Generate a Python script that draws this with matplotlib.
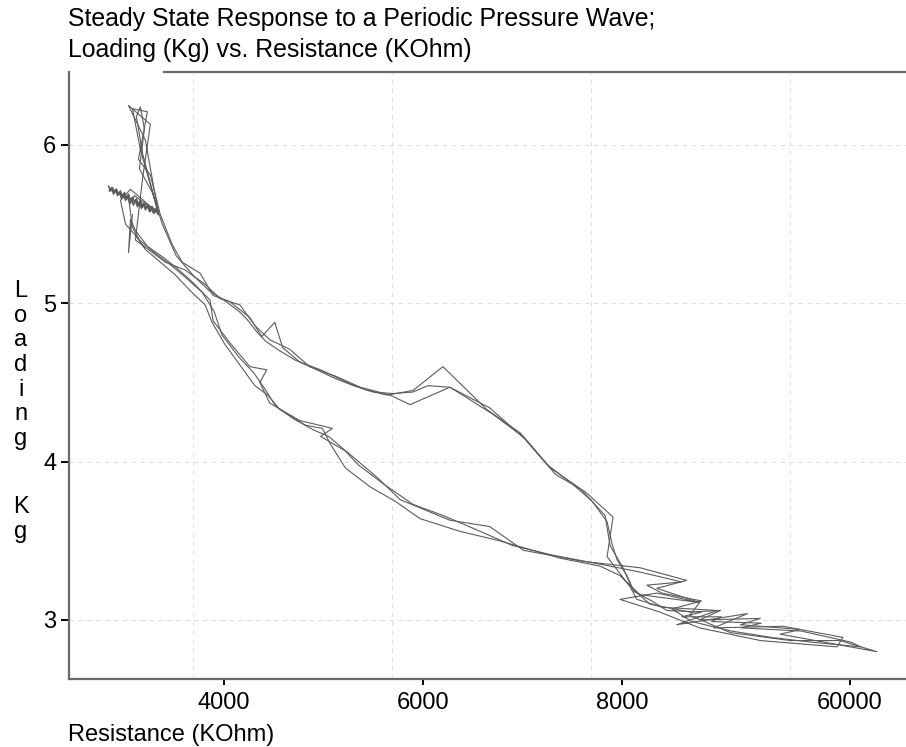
import matplotlib
matplotlib.use("Agg")
import matplotlib.pyplot as plt

plt.rcParams['font.family'] = ['Liberation Sans', 'DejaVu Sans']

# --- data: Resistance (KOhm) vs Loading (Kg) ---
res_a = [3340, 3160, 3080, 3230, 3140, 3260, 3360, 3480, 3580, 3760, 3890, 4060, 4260, 4380,
         4510, 4590, 4760, 4970, 5240, 5440, 5640, 5900, 6200, 6640, 6980, 7280, 7580, 7830,
         7880, 8010, 8100, 8280, 8680, 8990, 8780, 9390, 9190, 9790, 9590, 10560, 10190, 9690,
         9090, 8680, 8780, 8350, 8650, 8180, 7610, 7010, 6670, 6270, 5770, 5540, 5240, 4970,
         5090, 4760, 4460, 4360, 4430, 4260, 4060, 3890, 3860, 3690, 3530, 3390, 3230, 3110,
         3060, 3040, 3080]
load_a = [5.57, 5.97, 6.23, 6.21, 5.91, 5.81, 5.56, 5.37, 5.26, 5.19, 5.05, 5.01, 4.91, 4.79,
          4.88, 4.72, 4.63, 4.58, 4.50, 4.45, 4.42, 4.45, 4.60, 4.33, 4.18, 3.96, 3.83, 3.66,
          3.47, 3.33, 3.20, 3.10, 3.05, 3.06, 3.00, 3.01, 2.97, 2.94, 2.91, 2.80, 2.87, 2.87,
          2.92, 3.03, 3.11, 3.20, 3.25, 3.33, 3.37, 3.44, 3.59, 3.63, 3.76, 3.90, 4.06, 4.16,
          4.21, 4.26, 4.37, 4.50, 4.58, 4.60, 4.75, 4.89, 5.02, 5.13, 5.22, 5.29, 5.36, 5.46,
          5.53, 5.32, 5.56]

res_b = [3340, 3210, 3040, 3260, 3180, 3110, 3240, 3410, 3610, 3810, 3960, 4160, 4310, 4460,
         4660, 4860, 5120, 5370, 5670, 5870, 6270, 6670, 7030, 7330, 7630, 7910, 7850, 8080,
         8150, 8410, 8960, 8550, 9260, 8920, 9620, 10220, 10160, 9390, 8780, 8380, 7980, 8350,
         8780, 8180, 7980, 7780, 7380, 6770, 6370, 5970, 5720, 5470, 5220, 5070, 4990, 4820,
         4560, 4440, 4310, 4160, 4010, 3880, 3810, 3660, 3510, 3360, 3210, 3110, 3010, 2960,
         3060, 3340]
load_b = [5.57, 6.03, 6.25, 6.13, 5.78, 5.40, 5.34, 5.26, 5.21, 5.12, 5.03, 4.99, 4.86, 4.77,
          4.71, 4.60, 4.54, 4.47, 4.42, 4.36, 4.47, 4.34, 4.14, 3.92, 3.81, 3.65, 3.40, 3.21,
          3.13, 3.08, 3.06, 2.97, 3.04, 2.95, 2.96, 2.89, 2.83, 2.87, 2.95, 3.05, 3.13, 3.17,
          3.11, 3.16, 3.28, 3.34, 3.39, 3.50, 3.56, 3.64, 3.75, 3.84, 3.96, 4.11, 4.21, 4.23,
          4.33, 4.42, 4.48, 4.61, 4.74, 4.88, 4.99, 5.08, 5.18, 5.26, 5.34, 5.43, 5.50, 5.65,
          5.72, 5.57]

res_c = [3340, 3180, 3120, 3160, 3200, 3150, 3280, 3380, 3520, 3700, 3850, 4000, 4150, 4230,
         4330, 4420, 4560, 4720, 4900, 5100, 5300, 5500, 5700, 5900, 6050, 6270, 6450, 6700,
         7000, 7250, 7500, 7700, 7850, 7900, 7950, 8050, 8120, 8300, 8450, 8800, 8600, 9000,
         8900, 9400, 9200, 9800, 10300, 10400, 9900, 9500, 9100, 8700, 8500, 8800, 8400, 8250,
         8600, 8200, 7800, 7300, 6900, 6500, 6200, 5900, 5600, 5350, 5200, 5050, 4900, 4700,
         4520, 4400, 4300, 4150, 3980, 3900, 3780, 3620, 3450, 3300, 3150, 3080, 3050, 3100,
         3340]
load_c = [5.57, 5.95, 6.18, 6.24, 6.10, 5.85, 5.70, 5.50, 5.30, 5.17, 5.08, 5.02, 4.95, 4.90,
          4.82, 4.76, 4.70, 4.64, 4.59, 4.53, 4.48, 4.44, 4.43, 4.44, 4.48, 4.47, 4.40, 4.30,
          4.16, 3.98, 3.86, 3.75, 3.62, 3.48, 3.38, 3.28, 3.18, 3.12, 3.06, 3.05, 3.02, 3.02,
          2.99, 2.98, 2.95, 2.93, 2.86, 2.83, 2.86, 2.89, 2.93, 2.99, 3.07, 3.12, 3.17, 3.22,
          3.24, 3.30, 3.35, 3.41, 3.47, 3.58, 3.66, 3.73, 3.86, 3.98, 4.08, 4.16, 4.20, 4.27,
          4.35, 4.47, 4.56, 4.66, 4.80, 4.95, 5.07, 5.16, 5.25, 5.32, 5.40, 5.48, 5.62, 5.68,
          5.57]

# dense rest cluster at lowest resistance
res_feather = [2840, 2860, 2880, 2900, 2920, 2940, 2960, 2980, 3000, 3020, 3040, 3060, 3080,
               3100, 3120, 3140, 3160, 3180, 3200, 3220, 3240, 3260, 3280, 3300, 3320, 3340,
               3310, 3290, 3270, 3250, 3230, 3210, 3190, 3170, 3150, 3130, 3110, 3090, 3070,
               3050, 3030, 3010, 2990, 2970, 2950, 2930, 2910, 2890, 2870, 2850]
load_feather = [5.74, 5.71, 5.73, 5.70, 5.72, 5.69, 5.71, 5.67, 5.70, 5.66, 5.69, 5.65, 5.67,
                5.64, 5.66, 5.62, 5.65, 5.61, 5.63, 5.60, 5.62, 5.58, 5.61, 5.57, 5.59, 5.56,
                5.60, 5.57, 5.61, 5.58, 5.62, 5.59, 5.63, 5.60, 5.64, 5.61, 5.65, 5.62, 5.66,
                5.63, 5.68, 5.65, 5.69, 5.66, 5.70, 5.68, 5.72, 5.69, 5.73, 5.71]

x_ticks = [4000, 6000, 8000, 10290]
x_labels = ['4000', '6000', '8000', '60000']
y_ticks = [3, 4, 5, 6]
x_grid = [3690, 5690, 7690, 9690]

LINE_COL = '#5c5c5c'
AXIS_COL = '#6a6a6a'

fig = plt.figure(figsize=(9.06, 7.47), dpi=100)
ax = fig.add_axes([0.0758, 0.0910, 0.9242, 0.8126])

for xg in x_grid:
    ax.axvline(xg, color='#dedede', lw=0.8, ls=(0, (4, 4)), zorder=0)
for yg in y_ticks:
    ax.axhline(yg, color='#dedede', lw=0.8, ls=(0, (4, 4)), zorder=0)

for rx, ly in [(res_a, load_a), (res_b, load_b), (res_c, load_c)]:
    ax.plot(rx, ly, color=LINE_COL, lw=0.8)
ax.plot(res_feather, load_feather, color=LINE_COL, lw=1.1)

ax.set_xlim(2439, 10854)
ax.set_ylim(2.627, 6.461)
ax.set_xticks(x_ticks)
ax.set_xticklabels(x_labels)
ax.set_yticks(y_ticks)

ax.spines['right'].set_visible(False)
ax.spines['top'].set_visible(False)
for s in ['left', 'bottom']:
    ax.spines[s].set_color(AXIS_COL)
    ax.spines[s].set_linewidth(1.6)
# top rule starts a bit right of the left axis
ax.plot([0.1138, 1.0], [1.0, 1.0], transform=ax.transAxes, color=AXIS_COL, lw=1.6,
        clip_on=False)

ax.tick_params(axis='x', direction='out', length=4, width=1.4, color='black',
               labelsize=17, pad=5)
ax.tick_params(axis='y', direction='out', length=6, width=1.4, color='black',
               labelsize=17, pad=3)

# title, two lines, left aligned with the axis
fig.text(0.075, 1 - 26 / 747, 'Steady State Response to a Periodic Pressure Wave;',
         fontsize=17.9, ha='left', va='baseline')
fig.text(0.075, 1 - 57 / 747, 'Loading (Kg) vs. Resistance (KOhm)',
         fontsize=17.9, ha='left', va='baseline')

fig.text(0.075, 1 - 741 / 747, 'Resistance (KOhm)', fontsize=17, ha='left', va='baseline')

# stacked y label
for i, ch in enumerate('Loading'):
    fig.text(21 / 906, 1 - (297 + i * 24.7) / 747, ch, fontsize=17, ha='center',
             va='baseline')
for i, ch in enumerate('Kg'):
    fig.text(21 / 906, 1 - (513 + i * 24.7) / 747, ch, fontsize=17, ha='center',
             va='baseline')

fig.savefig('out.png', dpi=100)
